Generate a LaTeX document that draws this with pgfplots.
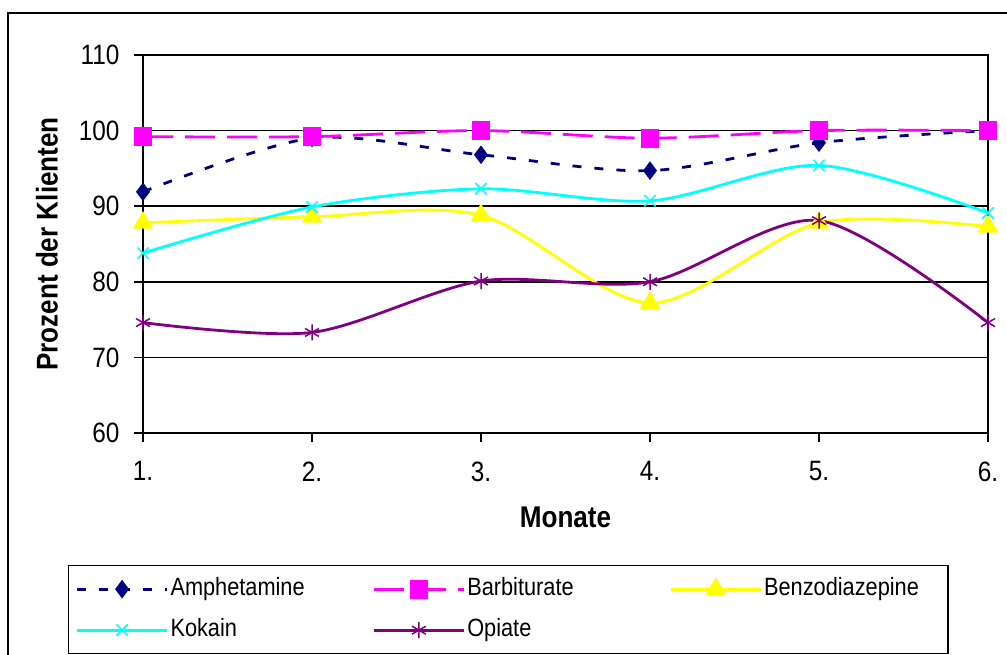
\documentclass[border=0pt]{standalone}
\usepackage{fontspec}
\setmainfont[FakeStretch=0.87]{Liberation Sans}
\usepackage{pgfplots}
\pgfplotsset{compat=1.18}
\definecolor{amph}{RGB}{0,0,128}
\definecolor{barb}{RGB}{255,0,255}
\definecolor{benz}{RGB}{255,255,0}
\definecolor{koka}{RGB}{0,255,255}
\definecolor{opia}{RGB}{128,0,128}
\newcommand\tlf{\fontsize{28}{32}\selectfont}
\begin{document}
\begin{tikzpicture}[x=1pt,y=1pt]
\path[use as bounding box] (0,0) rectangle (1007,655);
\draw[line width=1.5pt,black] (8,-5) -- (8,642) -- (1012,642);
\begin{axis}[
  at={(143pt,222pt)}, anchor=south west,
  scale only axis, width=845pt, height=378pt,
  xmin=1, xmax=6, ymin=60, ymax=110,
  xtick={1,2,3,4,5,6},
  xticklabels={1.,2.,3.,4.,5.,6.},
  ytick={60,70,80,90,100,110},
  ymajorgrids,
  grid style={black, line width=1.6pt},
  axis line style={black, line width=1.6pt},
  tick style={black, line width=1.6pt},
  tick align=outside, major tick length=9pt,
  xtick pos=bottom, ytick pos=left,
  /pgf/number format/assume math mode=true,
  every tick label/.append style={font=\tlf, text=black},
  yticklabel style={xshift=-11pt},
  xticklabel style={yshift=-16pt},
  xlabel={\textbf{Monate}},
  ylabel={\textbf{Prozent der Klienten}},
  label style={font=\fontsize{30}{34}\selectfont},
  xlabel style={yshift=-19pt},
  ylabel style={yshift=14pt},
  legend columns=3,
  legend style={at={(-0.0888,-0.349)}, anchor=north west, draw=black, line width=1.5pt,
    font=\fontsize{25}{29}\selectfont, inner xsep=7pt, inner ysep=10pt,
    row sep=14pt,
    nodes={inner sep=2pt, text height=18pt, text depth=5pt}},
  legend cell align=left,
  legend image code/.code={\draw[mark repeat=2,mark phase=2,#1] plot coordinates {(0pt,0pt) (45pt,0pt) (90pt,0pt)};},
  every axis plot/.append style={line width=2.8pt, smooth, tension=0.5},
  clip=false,
]
\addplot[color=amph, dash pattern=on 9pt off 13pt, mark=diamond*, mark size=7pt, mark options={solid, fill=amph}]
 coordinates {(1,91.9) (2,99.0) (3,96.8) (4,94.7) (5,98.4) (6,100.0)};
\addlegendentry{\makebox[200pt][l]{Amphetamine}}
\addplot[color=barb, dash pattern=on 30pt off 12pt, mark=square*, mark size=8pt, mark options={solid, fill=barb}]
 coordinates {(1,99.2) (2,99.2) (3,100.0) (4,99.0) (5,100.0) (6,100.0)};
\addlegendentry{\makebox[200pt][l]{Barbiturate}}
\addplot[color=benz, mark=triangle*, mark size=9pt, mark options={solid, fill=benz}]
 coordinates {(1,87.8) (2,88.6) (3,88.8) (4,77.2) (5,87.8) (6,87.3)};
\addlegendentry{\makebox[175pt][l]{Benzodiazepine}}
\addplot[color=koka, mark=x, mark size=8pt, mark options={solid, line width=1.5pt}]
 coordinates {(1,83.8) (2,89.9) (3,92.3) (4,90.7) (5,95.4) (6,89.1)};
\addlegendentry{Kokain}
\addplot[color=opia, mark=asterisk, mark size=8pt, mark options={solid, line width=1.5pt}]
 coordinates {(1,74.6) (2,73.3) (3,80.1) (4,80.0) (5,88.1) (6,74.6)};
\addlegendentry{Opiate}
\end{axis}
\end{tikzpicture}
\end{document}
